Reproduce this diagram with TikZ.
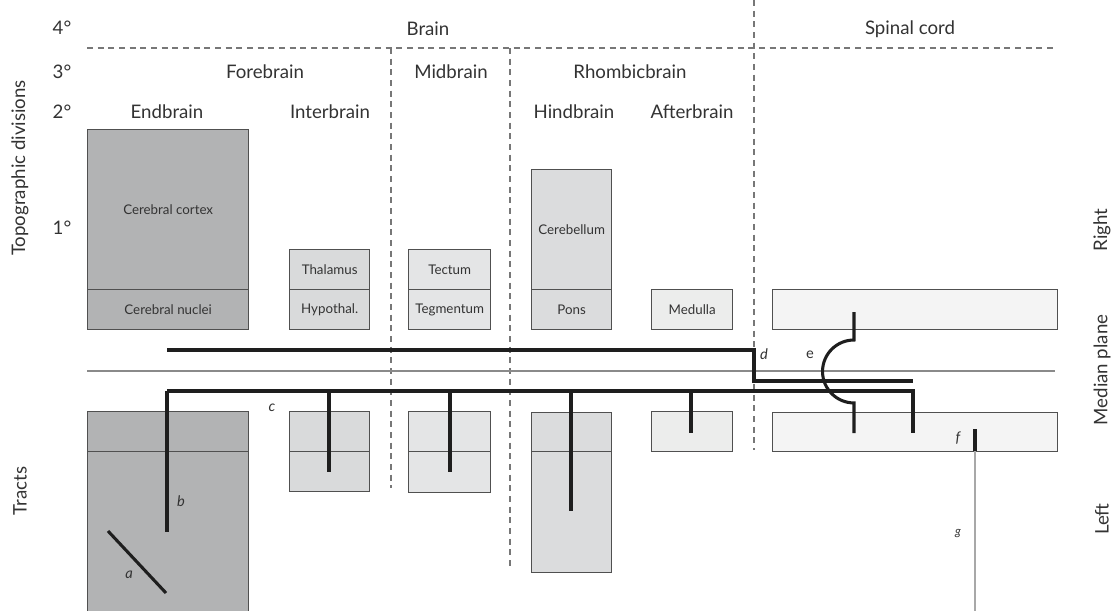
\documentclass[tikz,border=0pt]{standalone}
\usepackage{fontspec}
\setmainfont{Lato}
\definecolor{txt}{HTML}{333333}
\definecolor{boxline}{HTML}{505050}
\definecolor{dashcol}{HTML}{777777}
\definecolor{tractcol}{HTML}{1E1E1E}
\definecolor{medcol}{HTML}{8A8A8A}
\definecolor{gcol}{HTML}{A8A8A8}
\definecolor{cEnd}{HTML}{B2B3B4}
\definecolor{cInt}{HTML}{D9DADB}
\definecolor{cMid}{HTML}{E4E5E6}
\definecolor{cHind}{HTML}{DBDCDD}
\definecolor{cMed}{HTML}{ECEDEC}
\definecolor{cSpin}{HTML}{F4F4F4}
\begin{document}
\begin{tikzpicture}[x=0.75pt,y=-0.75pt,
  box/.style={draw=boxline, line width=1pt, anchor=north west, inner sep=0pt, text=txt, font=\fontsize{10}{11}\selectfont},
  head/.style={text=txt, font=\fontsize{14}{16}\selectfont, inner sep=0pt},
  side/.style={text=txt, font=\fontsize{14}{16}\selectfont, rotate=90, inner sep=0pt},
  divl/.style={draw=dashcol, line width=0.8pt, dash pattern=on 4.5pt off 3.5pt},
  tract/.style={draw=tractcol, line width=2.3pt},
  lab/.style={text=txt, font=\itshape\fontsize{11}{13}\selectfont, inner sep=0pt},
  uplab/.style={text=txt, font=\fontsize{11}{13}\selectfont, inner sep=0pt}
]
\useasboundingbox (0,0) rectangle (1115,611);

% dashed division lines
\coordinate (hL) at (87,48);
\coordinate (hR) at (1055,48);
\draw[divl] (hL) -- (hR);
\coordinate (v1t) at (754,0);
\coordinate (v1b) at (754,450);
\draw[divl] (v1t) -- (v1b);
\coordinate (v2t) at (391,48);
\coordinate (v2b) at (391,488);
\draw[divl] (v2t) -- (v2b);
\coordinate (v3t) at (510,48);
\coordinate (v3b) at (510,567);
\draw[divl] (v3t) -- (v3b);

% level labels
\node[head] (l4) at (62,28) {4°};
\node[head] (l3) at (62,72) {3°};
\node[head] (l2) at (62,112) {2°};
\node[head] (l1) at (62,228) {1°};

\node[head] (brain) at (428,29) {Brain};
\node[head] (spinal) at (910,29) {Spinal cord};
\node[head] (fore) at (265,72) {Forebrain};
\node[head] (mid) at (451,72) {Midbrain};
\node[head] (rhomb) at (630,72) {Rhombicbrain};
\node[head] (endb) at (167,112) {Endbrain};
\node[head] (interb) at (330,112) {Interbrain};
\node[head] (hindb) at (574,112) {Hindbrain};
\node[head] (afterb) at (692,112) {Afterbrain};

\node[side] (topo) at (20,168) {Topographic divisions};
\node[side] (tracts) at (20,491) {Tracts};
\node[side] (right) at (1102,230) {Right};
\node[side] (median) at (1102,370) {Median plane};
\node[side] (left) at (1102,519) {Left};

% upper (right side) boxes
\node[box, fill=cEnd, minimum width=120.75pt, minimum height=120pt] (cortex) at (87,129) {Cerebral cortex};
\node[box, fill=cEnd, minimum width=120.75pt, minimum height=30pt] (nuclei) at (87,289) {Cerebral nuclei};
\node[box, fill=cInt, minimum width=60pt, minimum height=30pt] (thal) at (289,249) {Thalamus};
\node[box, fill=cInt, minimum width=60pt, minimum height=30pt] (hypo) at (289,289) {Hypothal.};
\node[box, fill=cMid, minimum width=61.5pt, minimum height=30pt] (tect) at (408,249) {Tectum};
\node[box, fill=cMid, minimum width=61.5pt, minimum height=30pt] (tegm) at (408,289) {Tegmentum};
\node[box, fill=cHind, minimum width=60pt, minimum height=90pt] (cereb) at (531,169) {Cerebellum};
\node[box, fill=cHind, minimum width=60pt, minimum height=30pt] (pons) at (531,289) {Pons};
\node[box, fill=cMed, minimum width=60.75pt, minimum height=30pt] (medu) at (651,289) {Medulla};
\node[box, fill=cSpin, minimum width=213.75pt, minimum height=30pt] (spinR) at (772,289) {};

% lower (left side) boxes
\node[box, fill=cEnd, minimum width=120.75pt, minimum height=30pt] (endL1) at (87,411) {};
\node[box, fill=cEnd, minimum width=120.75pt, minimum height=124pt] (endL2) at (87,451) {};
\node[box, fill=cInt, minimum width=60pt, minimum height=30pt] (intL1) at (289,411) {};
\node[box, fill=cInt, minimum width=60pt, minimum height=30pt] (intL2) at (289,451) {};
\node[box, fill=cMid, minimum width=61.5pt, minimum height=30pt] (midL1) at (408,411) {};
\node[box, fill=cMid, minimum width=61.5pt, minimum height=30.75pt] (midL2) at (408,451) {};
\node[box, fill=cHind, minimum width=60pt, minimum height=29.25pt] (hindL1) at (531,412) {};
\node[box, fill=cHind, minimum width=60pt, minimum height=90.75pt] (hindL2) at (531,451) {};
\node[box, fill=cMed, minimum width=60.75pt, minimum height=30pt] (medL) at (651,411) {};
\node[box, fill=cSpin, minimum width=213.75pt, minimum height=29.25pt] (spinL) at (772,412) {};

% median plane
\coordinate (mpL) at (87,371);
\coordinate (mpR) at (1055,371);
\draw[draw=medcol, line width=1.1pt] (mpL) -- (mpR);

% tracts
\coordinate (u0) at (167,350);
\coordinate (u1) at (754,350);
\coordinate (u2) at (754,381);
\coordinate (u3) at (913,381);
\draw[tract] (u0) -- (u1) -- (u2) -- (u3);

\coordinate (w0) at (167,391);
\coordinate (w1) at (913,391);
\coordinate (w2) at (913,433);
\draw[tract] (w0) -- (w1) -- (w2);

\coordinate (bEnd) at (167,532);
\draw[tract] (w0) -- (bEnd);
\coordinate (ci0) at (329,391);
\coordinate (ci1) at (329,472);
\draw[tract] (ci0) -- (ci1);
\coordinate (mi0) at (450,391);
\coordinate (mi1) at (450,472);
\draw[tract] (mi0) -- (mi1);
\coordinate (hi0) at (571,391);
\coordinate (hi1) at (571,511);
\draw[tract] (hi0) -- (hi1);
\coordinate (me0) at (691,391);
\coordinate (me1) at (691,433);
\draw[tract] (me0) -- (me1);

\coordinate (a0) at (108,531);
\coordinate (a1) at (166,593);
\draw[tract] (a0) -- (a1);

\coordinate (e0) at (854,312);
\coordinate (e1) at (854,340);
\coordinate (e2) at (854,403);
\coordinate (e3) at (854,433);
\draw[tract] (e0) -- (e1) arc (90:270:23.6pt) -- (e3);

\coordinate (f0) at (975,429);
\coordinate (f1) at (975,451);
\coordinate (g1) at (975,611);
\draw[draw=gcol, line width=1.8pt] (f1) -- (g1);
\draw[tract] (f0) -- (f1);

% letters
\node[lab] (la) at (129,575) {a};
\node[lab] (lb) at (181,501) {b};
\node[lab] (lc) at (272,408) {c};
\node[lab] (ld) at (764,354) {d};
\node[uplab] (le) at (810,355) {e};
\node[lab] (lf) at (958,438) {f};
\node[lab, font=\itshape\fontsize{9}{11}\selectfont] (lg) at (958,534) {g};
\end{tikzpicture}
\end{document}
